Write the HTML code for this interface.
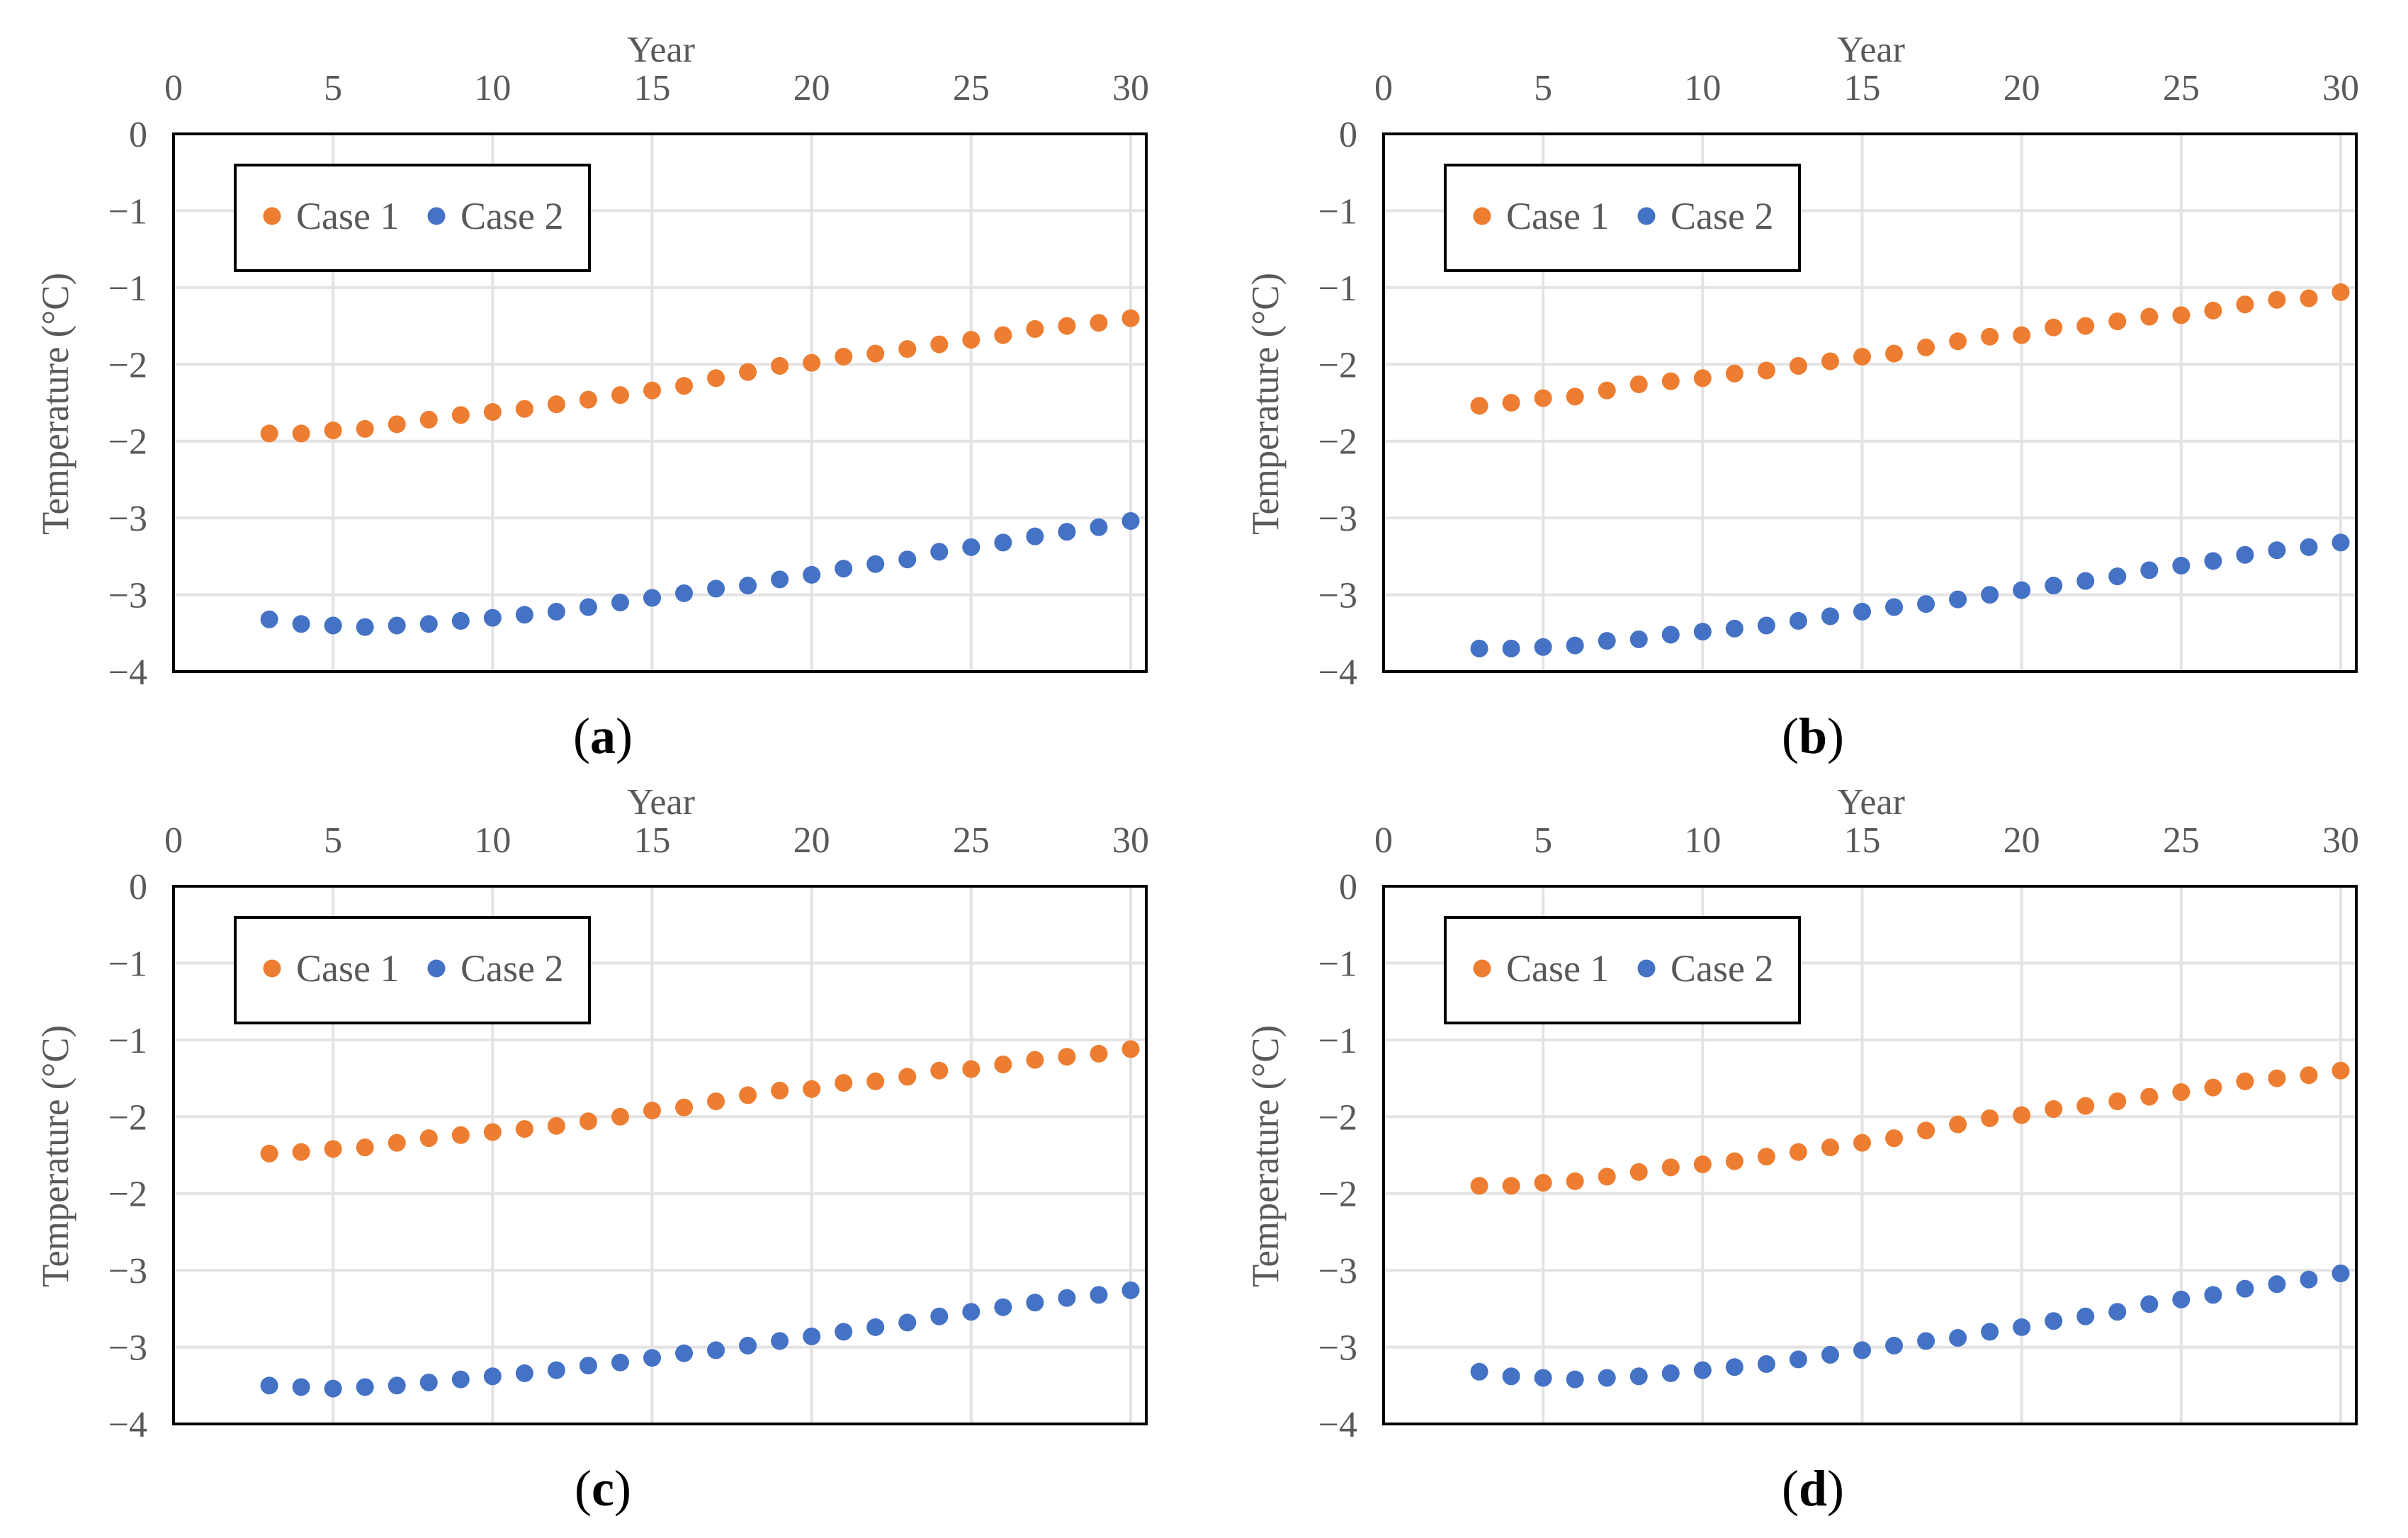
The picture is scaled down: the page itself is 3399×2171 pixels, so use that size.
<!DOCTYPE html>
<html><head><meta charset="utf-8"><style>
html,body{margin:0;padding:0;background:#fff;}
svg{display:block;}
text{font-family:"Liberation Serif",serif;}
</style></head><body>
<svg id="fig" width="3399" height="2171" viewBox="0 0 3399 2171" xmlns="http://www.w3.org/2000/svg"></svg>
<script>
const years = [3,4,5,6,7,8,9,10,11,12,13,14,15,16,17,18,19,20,21,22,23,24,25,26,27,28,29,30];
const xTicks = [0,5,10,15,20,25,30];
const yTicks = [0,-0.5,-1,-1.5,-2,-2.5,-3,-3.5];
const yTickLabels = ["0","\u22121","\u22121","\u22122","\u22122","\u22123","\u22123","\u22124"];
const panelLabels = ["a","b","c","d"];
const aCase1 = [-1.95,-1.95,-1.93,-1.92,-1.89,-1.86,-1.83,-1.81,-1.79,-1.76,-1.73,-1.70,-1.67,-1.64,-1.59,-1.55,-1.51,-1.49,-1.45,-1.43,-1.40,-1.37,-1.34,-1.31,-1.27,-1.25,-1.23,-1.20];
const aCase2 = [-3.16,-3.19,-3.20,-3.21,-3.20,-3.19,-3.17,-3.15,-3.13,-3.11,-3.08,-3.05,-3.02,-2.99,-2.96,-2.94,-2.90,-2.87,-2.83,-2.80,-2.77,-2.72,-2.69,-2.66,-2.62,-2.59,-2.56,-2.52];
const bCase1 = [-1.77,-1.75,-1.72,-1.71,-1.67,-1.63,-1.61,-1.59,-1.56,-1.54,-1.51,-1.48,-1.45,-1.43,-1.39,-1.35,-1.32,-1.31,-1.26,-1.25,-1.22,-1.19,-1.18,-1.15,-1.11,-1.08,-1.07,-1.03];
const bCase2 = [-3.35,-3.35,-3.34,-3.33,-3.30,-3.29,-3.26,-3.24,-3.22,-3.20,-3.17,-3.14,-3.11,-3.08,-3.06,-3.03,-3.00,-2.97,-2.94,-2.91,-2.88,-2.84,-2.81,-2.78,-2.74,-2.71,-2.69,-2.66];
const cCase1 = [-1.74,-1.73,-1.71,-1.70,-1.67,-1.64,-1.62,-1.60,-1.58,-1.56,-1.53,-1.50,-1.46,-1.44,-1.40,-1.36,-1.33,-1.32,-1.28,-1.27,-1.24,-1.20,-1.19,-1.16,-1.13,-1.11,-1.09,-1.06];
const cCase2 = [-3.25,-3.26,-3.27,-3.26,-3.25,-3.23,-3.21,-3.19,-3.17,-3.15,-3.12,-3.10,-3.07,-3.04,-3.02,-2.99,-2.96,-2.93,-2.90,-2.87,-2.84,-2.80,-2.77,-2.74,-2.71,-2.68,-2.66,-2.63];
const dCase1 = [-1.95,-1.95,-1.93,-1.92,-1.89,-1.86,-1.83,-1.81,-1.79,-1.76,-1.73,-1.70,-1.67,-1.64,-1.59,-1.55,-1.51,-1.49,-1.45,-1.43,-1.40,-1.37,-1.34,-1.31,-1.27,-1.25,-1.23,-1.20];
const dCase2 = [-3.16,-3.19,-3.20,-3.21,-3.20,-3.19,-3.17,-3.15,-3.13,-3.11,-3.08,-3.05,-3.02,-2.99,-2.96,-2.94,-2.90,-2.87,-2.83,-2.80,-2.77,-2.72,-2.69,-2.66,-2.62,-2.59,-2.56,-2.52];

const panelData = [[aCase1,aCase2],[bCase1,bCase2],[cCase1,cCase2],[dCase1,dCase2]];
const NS = "http://www.w3.org/2000/svg";
const svg = document.getElementById("fig");
const PW = 1373, PH = 759;
const origins = [[245,189],[1953,189],[245,1251],[1953,1251]];
const COLORS = ["#ED7D31","#4472C4"];
function mk(tag, attrs, parent, txt){
  const e = document.createElementNS(NS, tag);
  for (const k in attrs) e.setAttribute(k, attrs[k]);
  if (txt !== undefined) e.textContent = txt;
  parent.appendChild(e);
  return e;
}
panelLabels.forEach((lab, i) => {
  const [ox, oy] = origins[i];
  const xs = v => ox + v * (1351 / 30);
  const ys = v => oy + (-v) / 3.5 * PH;
  const g = mk("g", {}, svg);
  
  
  yTicks.forEach((t, k) => {
    if (k === 0 || k === yTicks.length - 1) return;
    const l = mk("line", {x1: ox, x2: ox + PW, y1: ys(t), y2: ys(t), stroke: "#e3e3e3", "stroke-width": 4}, g);
    
    
  });
  xTicks.forEach(t => {
    if (t === 0) return;
    const l = mk("line", {x1: xs(t), x2: xs(t), y1: oy, y2: oy + PH, stroke: "#e3e3e3", "stroke-width": 4}, g);
    
    
  });
  xTicks.forEach(t => {
    const tx = mk("text", {x: xs(t), y: oy - 48, "text-anchor": "middle", "font-size": 52, fill: "#595959"}, g, String(t));
    
    
  });
  yTicks.forEach((t, k) => {
    const tx = mk("text", {x: ox - 37, y: ys(t) + 18, "text-anchor": "end", "font-size": 52, fill: "#595959"}, g, yTickLabels[k]);
    
    
  });
  const xt = mk("text", {x: ox + 688, y: oy - 102, "text-anchor": "middle", "font-size": 52, fill: "#595959"}, g, "Year");
  
  
  const yt = mk("text", {x: 0, y: 0, "text-anchor": "middle", "font-size": 54, fill: "#595959", textLength: 370, lengthAdjust: "spacingAndGlyphs", transform: `translate(${ox - 149},${oy + 381}) rotate(-90)`}, g, "Temperature (\u00B0C)");
  
  
  panelData[i].forEach((series, s) => {
    series.forEach((v, j) => {
      const c = mk("circle", {cx: xs(years[j]), cy: ys(v), r: 12.5, fill: COLORS[s]}, g);
      
      
    });
  });
  const fr = mk("rect", {x: ox, y: oy, width: PW, height: PH, fill: "none", stroke: "#000", "stroke-width": 4}, g);
  
  
  const lg = mk("g", {}, g);
  
  
  mk("rect", {x: ox + 87, y: oy + 44, width: 500, height: 149, fill: "#fff", stroke: "#000", "stroke-width": 4}, lg);
  ["Case 1", "Case 2"].forEach((name, s) => {
    const lx = ox + 139 + s * 232;
    const m = mk("circle", {cx: lx, cy: oy + 116, r: 12.5, fill: COLORS[s]}, lg);
    
    
    const t = mk("text", {x: lx + 34, y: oy + 134, "font-size": 54, fill: "#595959"}, lg, name);
    
    
  });
  const cap = mk("text", {x: ox + 606, y: oy + 874, "text-anchor": "middle", "font-size": 72, fill: "#000"}, g);
  
  
  mk("tspan", {}, cap, "(");
  mk("tspan", {"font-weight": "bold"}, cap, lab);
  mk("tspan", {}, cap, ")");
});
</script>
</body></html>
